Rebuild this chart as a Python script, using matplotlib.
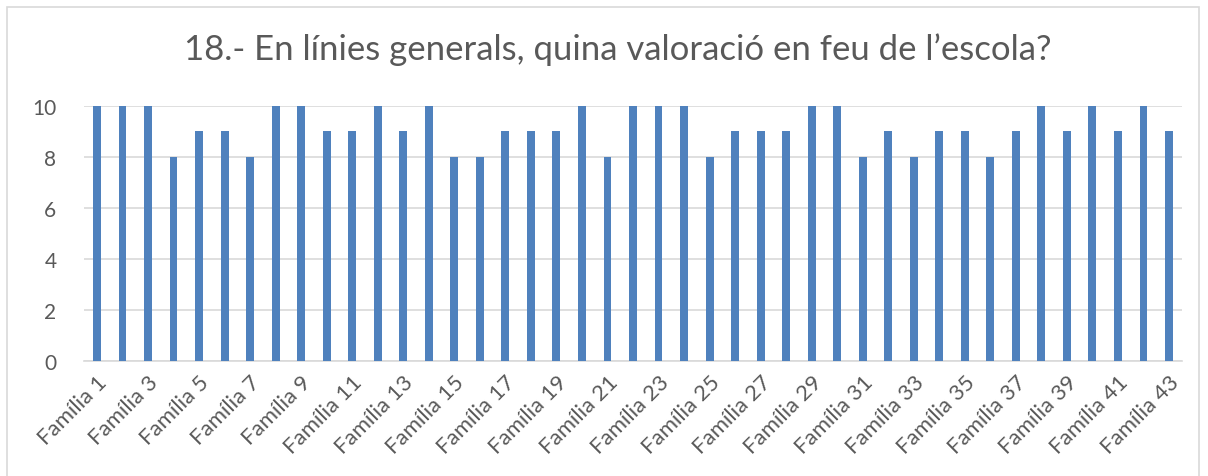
import matplotlib.pyplot as plt
from matplotlib.patches import Rectangle

# Valoració de cada família (pregunta 18)
families = [f'Família {i}' for i in range(1, 44)]
scores = [10, 10, 10, 8, 9, 9, 8, 10, 10, 9,
          9, 10, 9, 10, 8, 8, 9, 9, 9, 10,
          8, 10, 10, 10, 8, 9, 9, 9, 10, 10,
          8, 9, 8, 9, 9, 8, 9, 10, 9, 10,
          9, 10, 9]
y_ticks = [0, 2, 4, 6, 8, 10]
title = '18.- En línies generals, quina valoració en feu de l\u2019escola?'

plt.rcParams['font.family'] = ['Lato', 'DejaVu Sans']

fig = plt.figure(figsize=(12.08, 4.77), dpi=100)
ax = fig.add_axes([0.0697, 0.2417, 0.9086, 0.5346])

x = list(range(len(families)))
ax.bar(x, scores, width=0.31, color='#4F81BD', zorder=3)

ax.set_xlim(-0.5, len(families) - 0.5)
ax.set_ylim(0, 10)
ax.set_yticks(y_ticks)
ax.set_yticklabels([str(v) for v in y_ticks], fontsize=15, color='#595959')
ax.grid(axis='y', color='#D9D9D9', linewidth=1.2, zorder=0)

# etiquetes només per a les famílies senars
ax.set_xticks(x[::2])
ax.set_xticklabels(families[::2], rotation=45, ha='right',
                   rotation_mode='anchor', fontsize=16, color='#595959')
ax.tick_params(axis='both', length=0)
ax.tick_params(axis='x', pad=8)
ax.tick_params(axis='y', pad=20)

for side in ['top', 'right', 'left']:
    ax.spines[side].set_visible(False)
ax.spines['bottom'].set_color('#D9D9D9')
ax.spines['bottom'].set_linewidth(1.2)

fig.text(0.511, 0.895, title, ha='center', va='center',
         fontsize=25, color='#595959')

# marc del gràfic
fig.patches.append(Rectangle((7 / 1208, -0.05), 1192 / 1208, 1 - 8 / 477 + 0.05,
                             transform=fig.transFigure, fill=False,
                             edgecolor='#D9D9D9', linewidth=1.2))

fig.savefig('out.png', dpi=100)
